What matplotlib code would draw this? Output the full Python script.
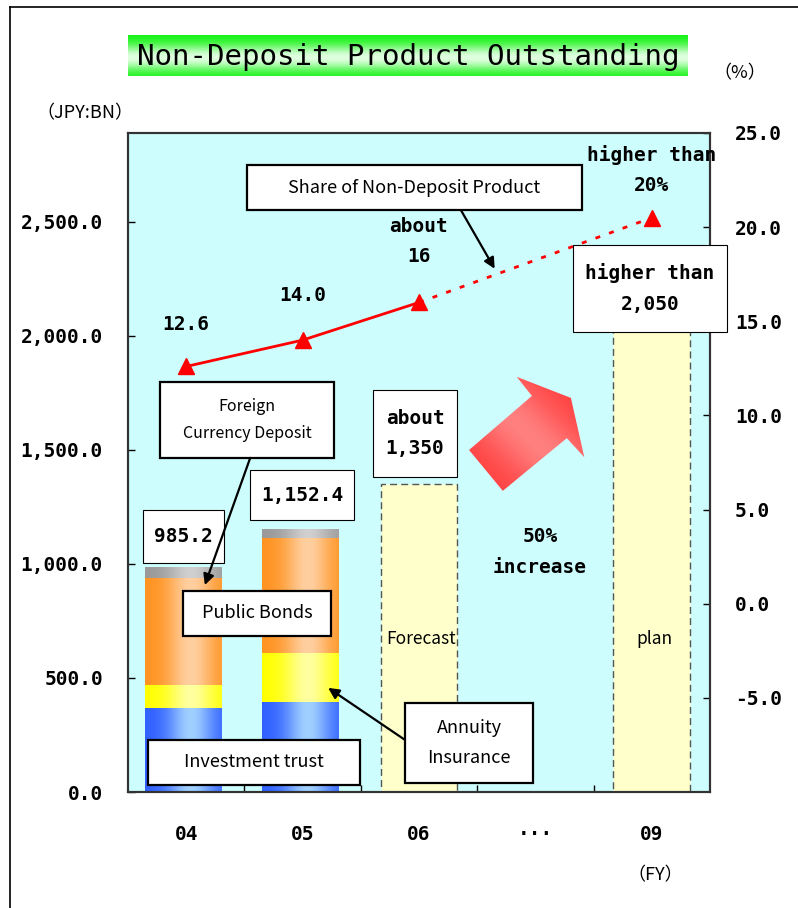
import numpy as np
import matplotlib
matplotlib.use('Agg')
import matplotlib.pyplot as plt
from matplotlib.patches import Rectangle, Polygon, FancyArrowPatch
from matplotlib.lines import Line2D
from matplotlib.ticker import FuncFormatter

# fiscal years
years = ['04', '05', '06', '···', '09']

# outstanding balance by product, JPY bn (actual years)
actual_pos = [0, 1]
investment_trust = [370.0, 395.0]
annuity_insurance = [100.0, 215.0]
public_bonds = [470.0, 505.0]
foreign_currency = [45.2, 37.4]

# forecast / plan totals
target_pos = [2, 4]
target_totals = [1350.0, 2050.0]
target_tags = ['Forecast', 'plan']

total_labels = ['985.2', '1,152.4', 'about\n1,350', 'higher than\n2,050']

# share of non-deposit products (%)
share_pos = [0, 1, 2, 4]
share_values = [12.6, 14.0, 16.0, 20.5]
share_labels = ['12.6', '14.0', 'about\n16', 'higher than\n20%']
share_label_lift = [42, 45, 61, 48]   # pixels above the marker

MONO = 'DejaVu Sans Mono'
SANS = ['Noto Sans CJK JP', 'DejaVu Sans']

W, H = 798, 908
fig = plt.figure(figsize=(W / 100, H / 100), dpi=100)

# outer frame
fig.add_artist(Line2D([10 / W, 10 / W], [0, 1 - 7 / H], color='black', lw=1.2))
fig.add_artist(Line2D([10 / W, 1], [1 - 7 / H, 1 - 7 / H], color='black', lw=1.2))

# title banner with green gradient
tax = fig.add_axes([128 / W, 1 - 76 / H, 560 / W, 41 / H])
t = np.linspace(0, 1, 80)
f = np.exp(-((t - 0.55) / 0.32) ** 2)
green = np.array([0.05, 0.95, 0.05])
pale = np.array([0.88, 1.0, 0.88])
grad = green + (pale - green) * f[:, None]
tax.imshow(grad[:, None, :], extent=(0, 1, 0, 1), aspect='auto', interpolation='bicubic')
tax.set_xlim(0, 1)
tax.set_ylim(0, 1)
tax.axis('off')
tax.text(0.5, 0.47, 'Non-Deposit Product Outstanding', ha='center', va='center',
         fontsize=21, family=MONO, color='black')

ax = fig.add_axes([128 / W, 1 - 792 / H, 582 / W, 659 / H])
ax.set_facecolor('#cefdfd')
ax2 = ax.twinx()


def gradient_bar(x, bottom, height, width, edge, mid):
    tt = np.linspace(0, 1, 64)
    ff = np.exp(-((tt - 0.6) / 0.3) ** 2)
    edge = np.array(matplotlib.colors.to_rgb(edge))
    mid = np.array(matplotlib.colors.to_rgb(mid))
    row = edge + (mid - edge) * ff[:, None]
    ax.imshow(row[None, :, :], extent=(x - width / 2, x + width / 2, bottom, bottom + height),
              aspect='auto', interpolation='bicubic', zorder=2)


bar_w = 0.66
segments = [
    (investment_trust, '#2f5fff', '#a0d0ff'),
    (annuity_insurance, '#ffff00', '#ffffa0'),
    (public_bonds, '#ff9320', '#ffcfa0'),
    (foreign_currency, '#999999', '#d0d0d0'),
]
for i, x in enumerate(actual_pos):
    bottom = 0.0
    for vals, edge, mid in segments:
        gradient_bar(x - 0.02, bottom, vals[i], bar_w, edge, mid)
        bottom += vals[i]

ax.bar(target_pos, target_totals, width=bar_w, color='#ffffcc', edgecolor='#555555',
       linestyle=(0, (5, 3)), linewidth=1.0, zorder=2)
for x, tag in zip(target_pos, target_tags):
    ax.text(x + 0.02, 670, tag, ha='center', va='center', fontsize=12.5, family=SANS, zorder=4)

ax.set_xlim(-0.5, 4.5)
ax.set_ylim(0, 2890)
ax.set_xticks(range(len(years)))
ax.set_xticklabels(years, family=MONO, fontweight='bold', fontsize=14)
ax.set_xticks([0.5, 1.5, 2.5, 3.5], minor=True)
ax.tick_params(axis='x', which='major', length=0, pad=24)
ax.tick_params(axis='x', which='minor', direction='in', length=5, width=1)
ax.set_yticks([0, 500, 1000, 1500, 2000, 2500])
ax.yaxis.set_major_formatter(FuncFormatter(lambda v, p: f'{v:,.1f}'))
ax.tick_params(axis='y', direction='in', length=5, width=1, pad=18)
for lab in ax.get_yticklabels():
    lab.set_family(MONO)
    lab.set_fontweight('bold')
    lab.set_fontsize(14)

# share line: solid for actual years, dashed toward the plan
ax2.plot(share_pos[:3], share_values[:3], color='#ff0000', lw=2, zorder=3)
ax2.plot(share_pos[2:], share_values[2:], color='#ff0000', lw=2,
         linestyle=(0, (1.8, 3.4)), zorder=3)
ax2.plot(share_pos, share_values, linestyle='none', marker='^', ms=12,
         color='#ff0000', zorder=4)
for x, v, lab, lift in zip(share_pos, share_values, share_labels, share_label_lift):
    ax2.annotate(lab, (x, v), xytext=(0, lift), textcoords='offset pixels',
                 ha='center', va='center', fontsize=14, family=MONO,
                 fontweight='bold', linespacing=1.75, zorder=6)

ax2.set_ylim(-10, 25)
ax2.set_yticks([-5, 0, 5, 10, 15, 20, 25])
ax2.yaxis.set_major_formatter(FuncFormatter(lambda v, p: f'{v:.1f}'))
ax2.tick_params(axis='y', direction='in', length=5, width=1, pad=18)
for lab in ax2.get_yticklabels():
    lab.set_family(MONO)
    lab.set_fontweight('bold')
    lab.set_fontsize(14)

for a in (ax, ax2):
    for sp in a.spines.values():
        sp.set_color('#333333')
        sp.set_linewidth(1.5)

# big red arrow between forecast and plan
arrow_pts = [(0.586, 0.519), (0.694, 0.601), (0.668, 0.630), (0.761, 0.598),
             (0.784, 0.508), (0.754, 0.537), (0.644, 0.457)]
arrow = Polygon(arrow_pts, closed=True, transform=ax.transAxes, facecolor='none',
                edgecolor='none', zorder=3)
ax.add_patch(arrow)
gy, gx = np.mgrid[0:1:120j, 0:1:120j]
d = np.abs((gx - 0.5) + (gy - 0.5))
shade = np.exp(-(d / 0.45) ** 2)
red_edge = np.array([1.0, 0.25, 0.25])
red_mid = np.array([1.0, 0.5, 0.5])
rimg = red_edge + (red_mid - red_edge) * shade[..., None]
im = ax.imshow(rimg, extent=(0.586, 0.784, 0.457, 0.630), transform=ax.transAxes,
               aspect='auto', interpolation='bicubic', zorder=3, origin='lower')
im.set_clip_path(arrow)
ax.set_xlim(-0.5, 4.5)
ax.set_ylim(0, 2890)

ax2.text(0.708, 0.364, '50%\nincrease', transform=ax.transAxes, ha='center',
         va='center', fontsize=14, family=MONO, fontweight='bold', linespacing=1.75, zorder=6)


def box(x0, y0, x1, y1, text, lw, size, font, bold=False, spacing=1.8):
    ax2.add_patch(Rectangle((x0, y0), x1 - x0, y1 - y0, transform=ax.transAxes,
                            facecolor='white', edgecolor='black', lw=lw, zorder=7,
                            clip_on=False))
    ax2.text((x0 + x1) / 2, (y0 + y1) / 2, text, transform=ax.transAxes,
             ha='center', va='center', fontsize=size, family=font,
             fontweight='bold' if bold else 'normal', linespacing=spacing, zorder=8)


def pointer(p0, p1):
    ax2.add_patch(FancyArrowPatch(p0, p1, transform=ax.transAxes, arrowstyle='-|>',
                                  mutation_scale=16, color='black', lw=1.6, zorder=7,
                                  shrinkA=0, shrinkB=0))


# value boxes above each bar
value_boxes = [(0.026, 0.3475, 0.165, 0.428), (0.2096, 0.4127, 0.3883, 0.4886),
               (0.421, 0.478, 0.5653, 0.610), (0.7646, 0.698, 1.029, 0.830)]
for (x0, y0, x1, y1), lab in zip(value_boxes, total_labels):
    box(x0, y0, x1, y1, lab, 0.8, 14, MONO, bold=True, spacing=1.75)

# callouts
box(0.2045, 0.883, 0.780, 0.951, 'Share of Non-Deposit Product', 1.6, 13, SANS)
pointer((0.572, 0.883), (0.630, 0.794))
box(0.055, 0.507, 0.354, 0.622, 'Foreign\nCurrency Deposit', 1.6, 11.5, SANS)
pointer((0.210, 0.507), (0.132, 0.314))
box(0.0945, 0.237, 0.349, 0.305, 'Public Bonds', 1.6, 13, SANS)
box(0.034, 0.0106, 0.399, 0.079, 'Investment trust', 1.6, 13, SANS)
box(0.476, 0.0137, 0.696, 0.135, 'Annuity\nInsurance', 1.6, 13, SANS, spacing=1.9)
pointer((0.476, 0.079), (0.344, 0.158))

# unit labels
fig.text(85 / W, 1 - 113 / H, '（JPY:BN）', ha='center', va='center', fontsize=13, family=SANS)
fig.text(740 / W, 1 - 73 / H, '（%）', ha='center', va='center', fontsize=13, family=SANS)
fig.text(655 / W, 1 - 875 / H, '（FY）', ha='center', va='center', fontsize=13, family=SANS)

fig.savefig('out.png', dpi=100)
